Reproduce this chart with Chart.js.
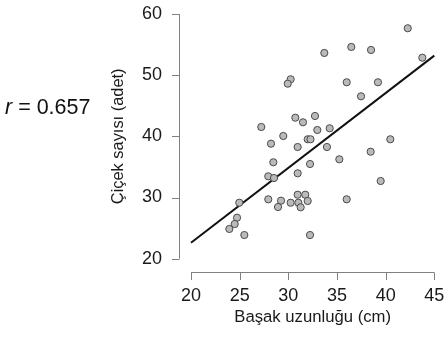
<!DOCTYPE html>
<html>
<head>
<meta charset="utf-8">
<script src="https://cdn.jsdelivr.net/npm/chart.js@4"></script>
<style>
  html, body { margin: 0; padding: 0; background: #ffffff; }
  #wrap { width: 448px; height: 344px; }
</style>
</head>
<body>
<div id="wrap"><canvas id="c" width="448" height="344"></canvas></div>
<script>
// Spike length (cm) and flower count for each plant
const spikeLength = [
  42.27, 36.47, 38.50, 33.70, 43.77, 30.24, 29.94, 36.00, 39.21, 37.47,
  30.72, 31.51, 32.74, 27.22, 32.98, 34.25, 29.48, 28.22, 31.99, 32.28,
  30.96, 33.97, 40.48, 38.46, 28.46, 32.23, 35.24, 27.94, 28.53, 30.96,
  39.49, 30.96, 31.74, 24.96, 27.94, 29.25, 28.94, 30.24, 31.03, 31.99,
  31.27, 36.00, 24.73, 24.49, 23.94, 25.48, 32.23
];
const flowerCount = [
  57.67, 54.61, 54.12, 53.63, 52.86, 49.33, 48.61, 48.84, 48.84, 46.55,
  43.05, 42.30, 43.33, 41.53, 41.04, 41.32, 40.06, 38.80, 39.52, 39.52,
  38.26, 38.26, 39.52, 37.49, 35.76, 35.48, 36.25, 33.47, 33.19, 33.96,
  32.70, 30.46, 30.46, 29.15, 29.71, 29.48, 28.45, 29.15, 29.15, 29.43,
  28.40, 29.71, 26.70, 25.67, 24.86, 23.87, 23.87
];

// Fitted regression line end points
const fitX = [20, 45];
const fitY = [22.6, 53.2];

// Axis ticks
const xTicks = [20, 25, 30, 35, 40, 45];
const yTicks = [20, 30, 40, 50, 60];

// Correlation coefficient
const rSymbol = 'r';
const rText = ' = 0.657';

const xTitle = 'Başak uzunluğu (cm)';
const yTitle = 'Çiçek sayısı (adet)';

const FONT = "'Liberation Sans', Arial, Helvetica, sans-serif";
const AXIS_COLOR = '#808080';

// Detached R-style axes: line offset from the plotting region, ticks pointing outward
const detachedAxes = {
  id: 'detachedAxes',
  afterDraw(chart) {
    const { ctx, chartArea } = chart;
    const xs = chart.scales.x, ys = chart.scales.y;
    ctx.save();
    ctx.strokeStyle = AXIS_COLOR;
    ctx.lineWidth = 1;

    // y axis
    const ax = Math.round(chartArea.left - 12.5) + 0.5;
    const yTop = ys.getPixelForValue(yTicks[yTicks.length - 1]);
    const yBot = ys.getPixelForValue(yTicks[0]);
    ctx.beginPath();
    ctx.moveTo(ax, yTop);
    ctx.lineTo(ax, yBot);
    yTicks.forEach(v => {
      const p = Math.round(ys.getPixelForValue(v)) + 0.5;
      ctx.moveTo(ax, p);
      ctx.lineTo(ax - 7.5, p);
    });
    ctx.stroke();

    // x axis
    const ay = Math.round(chartArea.bottom + 13.5) + 0.5;
    const xL = xs.getPixelForValue(xTicks[0]);
    const xR = xs.getPixelForValue(xTicks[xTicks.length - 1]);
    ctx.beginPath();
    ctx.moveTo(xL, ay);
    ctx.lineTo(xR, ay);
    xTicks.forEach(v => {
      const p = Math.round(xs.getPixelForValue(v)) + 0.5;
      ctx.moveTo(p, ay);
      ctx.lineTo(p, ay + 7.5);
    });
    ctx.stroke();

    // correlation label
    ctx.fillStyle = '#111111';
    ctx.textBaseline = 'middle';
    ctx.textAlign = 'left';
    ctx.font = 'italic 21.5px ' + FONT;
    ctx.fillText(rSymbol, 5, 108);
    const w = ctx.measureText(rSymbol).width;
    ctx.font = '21.5px ' + FONT;
    ctx.fillText(rText, 5 + w, 108);
    ctx.restore();
  }
};

const points = spikeLength.map((x, i) => ({ x, y: flowerCount[i] }));
const fitLine = fitX.map((x, i) => ({ x, y: fitY[i] }));

new Chart(document.getElementById('c'), {
  type: 'scatter',
  data: {
    datasets: [
      {
        type: 'line',
        data: fitLine,
        borderColor: '#111111',
        borderWidth: 2,
        pointRadius: 0,
        fill: false,
        order: 2
      },
      {
        data: points,
        pointRadius: 3.6,
        pointHoverRadius: 3.6,
        pointBackgroundColor: '#bababa',
        pointBorderColor: '#4a4a4a',
        pointBorderWidth: 1,
        order: 1
      }
    ]
  },
  options: {
    responsive: false,
    animation: false,
    clip: false,
    layout: { padding: { top: 14, right: 13.7, left: 0, bottom: 0 } },
    plugins: {
      legend: { display: false },
      tooltip: { enabled: false }
    },
    scales: {
      x: {
        type: 'linear',
        min: 20, max: 45,
        afterBuildTicks: s => { s.ticks = xTicks.map(v => ({ value: v })); },
        afterFit: s => { s.height = 85.3; },
        grid: { display: false, drawTicks: true, tickLength: 27 },
        border: { display: false },
        ticks: {
          padding: 0,
          color: '#1a1a1a',
          font: { family: FONT, size: 18 },
          maxRotation: 0
        },
        title: {
          display: true,
          text: xTitle,
          color: '#1a1a1a',
          font: { family: FONT, size: 16.7 },
          padding: { top: 0, bottom: 17 }
        }
      },
      y: {
        type: 'linear',
        min: 20, max: 60,
        afterBuildTicks: s => { s.ticks = yTicks.map(v => ({ value: v })); },
        afterFit: s => { s.width = 191; },
        grid: { display: false, drawTicks: true, tickLength: 29 },
        border: { display: false },
        ticks: {
          padding: 0,
          color: '#1a1a1a',
          font: { family: FONT, size: 18 }
        },
        title: {
          display: true,
          text: yTitle,
          color: '#1a1a1a',
          font: { family: FONT, size: 16.4 },
          padding: { top: 109, bottom: 0 }
        }
      }
    }
  },
  plugins: [detachedAxes]
});
</script>
</body>
</html>
